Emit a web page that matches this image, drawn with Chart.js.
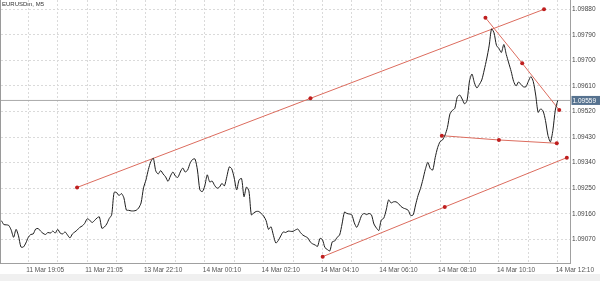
<!DOCTYPE html>
<html lang="en">
<head>
<meta charset="UTF-8">
<title>EURUSDm, M5</title>
<script src="https://cdn.jsdelivr.net/npm/chart.js@4.4.1/dist/chart.umd.min.js"></script>
<style>
  html, body { margin: 0; padding: 0; background: #fff; }
  .wrap { position: relative; width: 600px; height: 281px; overflow: hidden; }
  .strip { position: absolute; left: 0; right: 0; bottom: 0; height: 7px; background: #f0f0f0; }
  .edge { position: absolute; left: 0; top: 0; width: 1px; height: 264px; background: #9a9a9a; }
  .title { position: absolute; left: 2px; top: 1px; z-index: 2; font: 6px "Liberation Sans", Arial, sans-serif; color: #333; }
  canvas { position: absolute; left: 0; top: 0; z-index: 1; }
</style>
</head>
<body>
<div class="wrap">
  <div class="strip"></div>
  <div class="edge"></div>
  <div class="title">EURUSDm, M5</div>
  <canvas id="chart" width="600" height="281"></canvas>
</div>

<script>
// close price per M5 bar (bar index = position in array)
const prices = [
  1.09132, 1.09135, 1.09122, 1.09121, 1.09119, 1.09103, 1.09077, 1.09105, 1.09082, 1.09043,
  1.09043, 1.09057, 1.09077, 1.09087, 1.09089, 1.09106, 1.09108, 1.09099, 1.09091, 1.09087,
  1.09094, 1.09092, 1.09099, 1.09092, 1.09105, 1.09092, 1.09089, 1.09096, 1.09085, 1.09075,
  1.09089, 1.09096, 1.09103, 1.09112, 1.09117, 1.09126, 1.09142, 1.09138, 1.09129, 1.09136,
  1.09145, 1.09149, 1.09109, 1.09113, 1.09124, 1.09143, 1.09156, 1.09235, 1.09235, 1.09224,
  1.09231, 1.09216, 1.09173, 1.09172, 1.09170, 1.09170, 1.09172, 1.09180, 1.09198, 1.09251,
  1.09279, 1.09316, 1.09344, 1.09355, 1.09311, 1.09300, 1.09312, 1.09300, 1.09290, 1.09274,
  1.09293, 1.09307, 1.09293, 1.09288, 1.09307, 1.09321, 1.09307, 1.09314, 1.09338, 1.09351,
  1.09353, 1.09314, 1.09244, 1.09238, 1.09258, 1.09297, 1.09272, 1.09275, 1.09260, 1.09250,
  1.09254, 1.09267, 1.09258, 1.09291, 1.09325, 1.09318, 1.09286, 1.09244, 1.09279, 1.09284,
  1.09220, 1.09254, 1.09240, 1.09156, 1.09163, 1.09168, 1.09168, 1.09161, 1.09152, 1.09136,
  1.09105, 1.09114, 1.09084, 1.09057, 1.09066, 1.09082, 1.09096, 1.09094, 1.09099, 1.09098,
  1.09098, 1.09103, 1.09106, 1.09094, 1.09085, 1.09080, 1.09075, 1.09061, 1.09054, 1.09050,
  1.09045, 1.09073, 1.09069, 1.09041, 1.09034, 1.09029, 1.09061, 1.09064, 1.09077, 1.09085,
  1.09124, 1.09166, 1.09161, 1.09159, 1.09156, 1.09128, 1.09112, 1.09131, 1.09154, 1.09161,
  1.09157, 1.09161, 1.09156, 1.09124, 1.09110, 1.09101, 1.09138, 1.09144, 1.09173, 1.09209,
  1.09198, 1.09202, 1.09202, 1.09196, 1.09186, 1.09180, 1.09177, 1.09172, 1.09154, 1.09156,
  1.09191, 1.09224, 1.09249, 1.09281, 1.09317, 1.09341, 1.09319, 1.09314, 1.09358, 1.09393,
  1.09414, 1.09420, 1.09437, 1.09464, 1.09511, 1.09524, 1.09531, 1.09571, 1.09578, 1.09564,
  1.09547, 1.09559, 1.09628, 1.09652, 1.09621, 1.09603, 1.09615, 1.09631, 1.09666, 1.09705,
  1.09751, 1.09811, 1.09797, 1.09753, 1.09742, 1.09728, 1.09756, 1.09721, 1.09691, 1.09661,
  1.09626, 1.09610, 1.09624, 1.09615, 1.09607, 1.09607, 1.09626, 1.09643, 1.09626, 1.09578,
  1.09517, 1.09529, 1.09522, 1.09488, 1.09436, 1.09413, 1.09453, 1.09525, 1.09559
];

// time axis: grid every 12 bars, a label every 24 bars
const xGridBars = [12, 24, 36, 48, 60, 72, 84, 96, 108, 120, 132, 144, 156, 168, 180, 192, 204, 216, 228];
const xTickBars = [12, 36, 60, 84, 108, 132, 156, 180, 204, 228];
const xTickLabels = ['11 Mar 19:05', '11 Mar 21:05', '13 Mar 22:10', '14 Mar 00:10', '14 Mar 02:10',
                     '14 Mar 04:10', '14 Mar 06:10', '14 Mar 08:10', '14 Mar 10:10', '14 Mar 12:10'];
const yTicks = [1.09070, 1.09160, 1.09250, 1.09340, 1.09430, 1.09520, 1.09610, 1.09700, 1.09790, 1.09880];

// trend lines drawn on the chart: [bar, price] for start, middle, end
const upperChannel = [[31.9, 1.092526], [127.1, 1.095663], [222.4, 1.098800]];
const lowerChannel = [[132.1, 1.090089], [181.9, 1.091839], [231.7, 1.093575]];
const fallLine     = [[198.5, 1.098504], [213.5, 1.096899], [228.6, 1.095254]];
const flatLine     = [[180.7, 1.094349], [204.0, 1.094198], [227.6, 1.094082]];

const xMin = 0.86, xMax = 233.2;
const yMin = 1.089848, yMax = 1.099127;
const lastPrice = prices[prices.length - 1];

const axisFont = { family: 'Liberation Sans', size: 6.5 };

const priceTag = {
  id: 'priceTag',
  afterDraw(chart) {
    const { ctx, chartArea, scales } = chart;
    const py = scales.y.getPixelForValue(lastPrice);
    ctx.save();
    ctx.fillStyle = '#56728f';
    ctx.fillRect(chartArea.right + 1, py - 4.5, chart.width - chartArea.right - 1, 9);
    ctx.fillStyle = '#fff';
    ctx.font = '6.5px "Liberation Sans"';
    ctx.textBaseline = 'middle';
    ctx.fillText(lastPrice.toFixed(5), chartArea.right + 2, py + 0.5);
    ctx.restore();
  }
};

function trend(points) {
  return {
    data: points.map(([x, y]) => ({ x, y })),
    borderColor: '#dc6c5e',
    borderWidth: 1,
    pointRadius: 2,
    pointBackgroundColor: '#bf1f1f',
    pointBorderWidth: 0,
    order: 2
  };
}

new Chart(document.getElementById('chart'), {
  type: 'line',
  data: {
    datasets: [
      {
        data: prices.map((p, i) => ({ x: i, y: p })),
        borderColor: '#1e1e1e',
        borderWidth: 1,
        pointRadius: 0,
        tension: 0.25,
        order: 1
      },
      {
        data: [{ x: xMin, y: lastPrice }, { x: xMax, y: lastPrice }],
        borderColor: '#a9a9a9',
        borderWidth: 1,
        pointRadius: 0,
        order: 3
      },
      trend(upperChannel),
      trend(lowerChannel),
      trend(fallLine),
      trend(flatLine)
    ]
  },
  options: {
    responsive: false,
    animation: false,
    devicePixelRatio: 1,
    layout: { autoPadding: false, padding: { left: 1, top: 0, right: 0, bottom: 0 } },
    plugins: { legend: { display: false }, tooltip: { enabled: false } },
    scales: {
      x: {
        type: 'linear',
        min: xMin,
        max: xMax,
        afterBuildTicks: s => { s.ticks = xGridBars.map(v => ({ value: v })); },
        afterFit: s => { s.height = 17.5; s.paddingLeft = 0; s.paddingRight = 0; },
        grid: { color: '#dadada', drawTicks: false },
        border: { color: '#a0a0a0', dash: [2, 2] },
        ticks: {
          autoSkip: false,
          maxRotation: 0,
          align: 'start',
          labelOffset: -2,
          padding: 2.5,
          color: '#555',
          font: axisFont,
          callback: v => {
            const k = xTickBars.indexOf(v);
            return k < 0 ? '' : xTickLabels[k];
          }
        }
      },
      y: {
        position: 'right',
        min: yMin,
        max: yMax,
        afterBuildTicks: s => { s.ticks = yTicks.map(v => ({ value: v })); },
        afterFit: s => { s.width = 29.5; s.paddingTop = 0; s.paddingBottom = 0; },
        grid: { color: '#dadada', drawTicks: false },
        border: { color: '#a0a0a0', dash: [2, 2] },
        ticks: { padding: 1.5, color: '#444', font: axisFont, callback: v => v.toFixed(5) }
      }
    }
  },
  plugins: [priceTag]
});
</script>
</body>
</html>
